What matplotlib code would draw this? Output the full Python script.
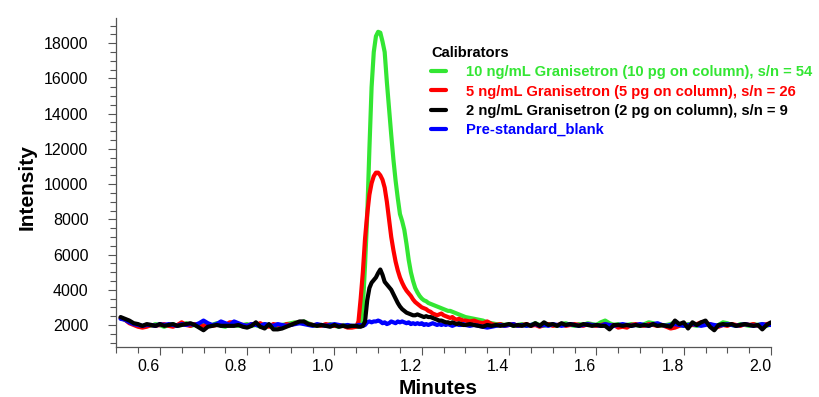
import numpy as np
import matplotlib
matplotlib.use('Agg')
import matplotlib.pyplot as plt
from matplotlib.ticker import MultipleLocator, FormatStrFormatter

plt.rcParams['font.family'] = ['Liberation Sans', 'DejaVu Sans']

# 시간 축 (분): 기저선은 0.01 간격, 피크 구간은 0.005 간격
minutes = np.concatenate([
    np.round(np.arange(0.51, 1.045, 0.01), 3),
    np.round(np.arange(1.05, 1.2975, 0.005), 3),
    np.round(np.arange(1.30, 2.005, 0.01), 3),
])

labels = [
    '10 ng/mL Granisetron (10 pg on column), s/n = 54',
    '5 ng/mL Granisetron (5 pg on column), s/n = 26',
    '2 ng/mL Granisetron (2 pg on column), s/n = 9',
    'Pre-standard_blank',
]
colors = ['#33e633', '#ff0000', '#000000', '#0000ff']

# 10 ng/mL
green = [
    2380, 2300, 2150, 2050, 1980, 1900, 1980, 1950, 2050, 1980,
    1900, 2000, 2050, 1950, 2000, 2100, 1950, 2000, 1900, 2050,
    1950, 2000, 2100, 1950, 1900, 2050, 2000, 1950, 2000, 2050,
    1950, 2000, 1900, 2050, 1950, 2000, 1900, 2000, 2050, 2100,
    2150, 2100, 2200, 2100, 2000, 1950, 2000, 1950, 2050, 1950,
    1900, 2000, 1950, 1900,
    # peak
    1900, 1950, 2050, 3000, 5400, 8200, 12000, 15500, 17500, 18400,
    18650, 18600, 18100, 17500, 15800, 14300, 12800, 11400, 10200, 9200,
    8300, 7900, 7400, 6600, 5700, 5000, 4500, 4100, 3850, 3650,
    3500, 3400, 3350, 3250, 3200, 3150, 3100, 3050, 3000, 2950,
    2900, 2850, 2800, 2800, 2750, 2700, 2650, 2600, 2550, 2500,
    # tail
    2450, 2400, 2350, 2300, 2250, 2150, 2100, 2050, 2050, 2000,
    2050, 1950, 2000, 2050, 1950, 2000, 2100, 2000, 1950, 2050,
    2000, 1950, 2050, 2100, 2000, 1950, 2050, 2000, 2100, 2050,
    2000, 2150, 2250, 2100, 2000, 2050, 1950, 2000, 2050, 2000,
    1950, 2050, 2150, 2100, 2000, 1950, 2000, 2050, 2150, 2000,
    1950, 2050, 2000, 1950, 2050, 2100, 2000, 1950, 2000, 2150,
    2100, 2000, 1950, 2050, 2000, 1950, 2050, 2000, 2050, 1950,
    2050,
]

# 5 ng/mL
red = [
    2400, 2300, 2100, 2000, 1900, 1850, 1900, 2000, 1950, 2000,
    2050, 1950, 1900, 2000, 2150, 2000, 1950, 2050, 2000, 1950,
    2050, 1950, 2000, 2100, 2000, 2150, 2150, 2050, 2000, 1950,
    2050, 2000, 2100, 1950, 1900, 2050, 2000, 1900, 2050, 2000,
    2100, 2150, 2100, 2050, 2000, 2000, 1950, 2050, 2000, 1950,
    2000, 1950, 1850, 1850,
    # peak
    1900, 2200, 3500, 5000, 6900, 8300, 9400, 10050, 10450, 10650,
    10650, 10500, 10250, 9800, 9000, 8000, 7000, 6250, 5600, 5100,
    4700, 4400, 4150, 3950, 3800, 3650, 3450, 3300, 3200, 3100,
    3000, 2950, 2900, 2800, 2750, 2650, 2600, 2550, 2600, 2650,
    2550, 2500, 2450, 2400, 2450, 2350, 2300, 2350, 2300, 2250,
    # tail
    2250, 2200, 2250, 2150, 2100, 2200, 2050, 2000, 2050, 1950,
    2000, 2050, 1950, 2000, 2050, 1950, 2000, 1900, 2000, 2050,
    1950, 2000, 2050, 1950, 2000, 2050, 2000, 1950, 2050, 2000,
    1950, 2000, 2050, 1950, 2000, 1850, 1900, 1850, 2000, 2050,
    2000, 1950, 2050, 2000, 1950, 2000, 1900, 1800, 1850, 1950,
    2050, 1950, 2000, 2050, 2150, 2100, 2050, 1950, 1900, 2000,
    1950, 2050, 2000, 1950, 2050, 2000, 2050, 1950, 2000, 2050,
    2100,
]

# 2 ng/mL
black = [
    2450, 2350, 2250, 2100, 2050, 1950, 2050, 2000, 1950, 2050,
    1950, 2000, 2050, 1950, 2000, 2050, 2100, 2000, 1850, 1700,
    1900, 1950, 2000, 1950, 1950, 1950, 1950, 2000, 1900, 1850,
    1950, 2150, 1900, 1800, 2050, 1750, 1750, 1800, 1900, 2000,
    2100, 2200, 2200, 2050, 2000, 1950, 2000, 1950, 1900, 2000,
    1900, 1950, 1900, 1950,
    # peak
    1950, 1900, 1900, 1950, 2200, 3400, 4100, 4400, 4550, 4700,
    4950, 5150, 4850, 4450, 4300, 4150, 4000, 3750, 3500, 3250,
    3050, 2900, 2800, 2700, 2650, 2600, 2550, 2550, 2600, 2550,
    2500, 2450, 2500, 2450, 2450, 2400, 2350, 2300, 2250, 2250,
    2200, 2150, 2150, 2100, 2150, 2100, 2050, 2100, 2050, 2000,
    # tail
    2000, 2050, 2000, 1950, 1900, 2000, 1950, 2000, 1950, 2000,
    2050, 1950, 2000, 1950, 2050, 1950, 2100, 1950, 2150, 2000,
    2050, 1950, 2100, 2000, 2050, 2000, 1950, 2050, 2000, 1950,
    2000, 1950, 1950, 1750, 2000, 2000, 1950, 2000, 1950, 2000,
    1950, 2000, 1950, 2050, 1950, 2000, 1950, 1900, 2250, 2050,
    2150, 1800, 2150, 2000, 2150, 2250, 1900, 1700, 2000, 2050,
    2000, 2050, 1950, 2000, 2050, 2000, 1950, 2000, 1750, 2000,
    2150,
]

# blank
blue = [
    2350, 2300, 2150, 2050, 2000, 1950, 2000, 2000, 1950, 2050,
    2000, 2050, 2000, 1950, 2050, 2000, 2050, 2000, 2100, 2250,
    2100, 2000, 2050, 2200, 2100, 2000, 2200, 2100, 2000, 1950,
    2050, 2000, 1950, 2050, 2000, 1950, 2050, 2000, 1950, 2000,
    2050, 2100, 2050, 2000, 1950, 2050, 2000, 1950, 2000, 2050,
    2000, 1950, 2000, 1950,
    # peak window
    1950, 2000, 2000, 1950, 2000, 2150, 2200, 2150, 2200, 2200,
    2250, 2200, 2100, 2150, 2050, 2100, 2200, 2150, 2100, 2200,
    2150, 2200, 2150, 2100, 2150, 2050, 2100, 2050, 2100, 2050,
    2100, 2000, 2050, 2000, 2050, 2100, 2050, 2000, 2050, 2000,
    2050, 2000, 2050, 2000, 1950, 2000, 2050, 2000, 2000, 2050,
    # tail
    2000, 1950, 2000, 1950, 1900, 1850, 1900, 1950, 2000, 1950,
    2000, 2050, 1950, 2000, 1950, 2000, 2050, 1950, 2000, 1950,
    2050, 2000, 1950, 2000, 2050, 2000, 1950, 2000, 2050, 2000,
    2000, 1950, 2050, 2000, 1950, 2000, 2050, 2000, 1950, 2000,
    2050, 2000, 1950, 2050, 2100, 2000, 1950, 2000, 2050, 2000,
    1950, 2000, 2050, 2000, 1950, 2000, 2050, 2000, 1950, 2000,
    2050, 2000, 1950, 2000, 2050, 2000, 1950, 2000, 2050, 2000,
    2000,
]

fig = plt.figure(figsize=(8.19, 3.97), dpi=100)
ax = fig.add_axes([0.1419, 0.126, 0.7995, 0.828])

# 그리는 순서: 초록, 빨강, 파랑, 검정 (검정이 맨 위)
series = [green, red, black, blue]
zorders = [2, 3, 5, 4]
handles = []
for vals, lab, col, z in zip(series, labels, colors, zorders):
    line, = ax.plot(minutes, vals, color=col, lw=3.0, label=lab, zorder=z,
                    solid_joinstyle='round', solid_capstyle='round')
    handles.append(line)

ax.set_xlim(0.5, 2.0)
ax.set_ylim(750, 19420)

for s in ['top', 'right']:
    ax.spines[s].set_visible(False)
for s in ['left', 'bottom']:
    ax.spines[s].set_color('#555555')
    ax.spines[s].set_linewidth(0.9)

ax.xaxis.set_major_locator(MultipleLocator(0.2))
ax.xaxis.set_minor_locator(MultipleLocator(0.05))
ax.xaxis.set_major_formatter(FormatStrFormatter('%.1f'))
ax.yaxis.set_major_locator(MultipleLocator(2000))
ax.yaxis.set_minor_locator(MultipleLocator(500))
ax.yaxis.set_major_formatter(FormatStrFormatter('%d'))

ax.tick_params(which='major', direction='out', length=6, width=0.8,
               color='#555555', labelsize=11.5)
ax.tick_params(which='minor', direction='out', length=4, width=0.8,
               color='#555555')
ax.tick_params(axis='y', which='major', pad=14)
ax.tick_params(axis='x', which='major', pad=3)
for lbl in ax.get_xticklabels():
    lbl.set_horizontalalignment('right')

ax.set_ylabel('Intensity', fontsize=15, fontweight='bold')
ax.yaxis.set_label_coords(-0.122, 0.487)
ax.set_xlabel('Minutes', fontsize=15, fontweight='bold')
ax.xaxis.set_label_coords(0.492, -0.098)

ax.legend(handles=handles, title='Calibrators', loc='upper left',
          bbox_to_anchor=(431 / 819, 1 - 46 / 397), bbox_transform=fig.transFigure,
          frameon=False, prop={'weight': 'bold', 'size': 10.6},
          title_fontproperties={'weight': 'bold', 'size': 10.6},
          labelcolor='linecolor', handlelength=1.05, handletextpad=1.3,
          labelspacing=0.36, borderpad=0, borderaxespad=0, alignment='left')

fig.savefig('out.png', dpi=100)
